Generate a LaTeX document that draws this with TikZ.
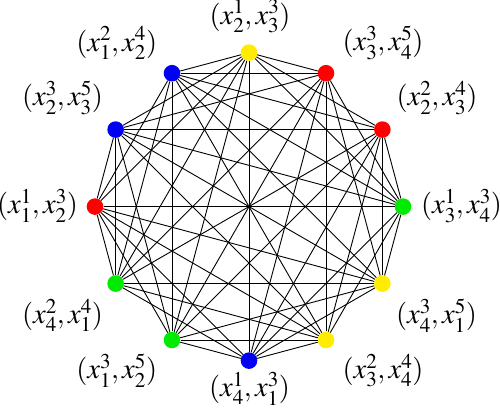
\documentclass[tikz,border=0pt]{standalone}
\usepackage{mathptmx}
\definecolor{nyellow}{RGB}{255,236,0}
\definecolor{nred}{RGB}{255,0,0}
\definecolor{ngreen}{RGB}{0,235,0}
\definecolor{nblue}{RGB}{0,0,245}
\begin{document}
\begin{tikzpicture}[x=1pt,y=-1pt,
  vtx/.style={circle,inner sep=0pt,minimum size=16.6pt,fill=#1},
  conn/.style={line width=0.9pt,black},
  lab/.style={inner sep=0pt,font=\fontsize{28.5}{32}\selectfont}]
\useasboundingbox (0,0) rectangle (500,412);
\begin{scope}[shift={(249,206.6)}]
\foreach \k/\c in {0/nyellow,1/nred,2/nred,3/ngreen,4/nyellow,5/nyellow,6/nblue,7/ngreen,8/ngreen,9/nred,10/nblue,11/nblue}
  \node[vtx=\c] (n\k) at ({30*\k-90}:154) {};
\end{scope}
% complete 4-partite graph: yellow {0,4,5}, red {1,2,9}, green {3,7,8}, blue {6,10,11}
\foreach \p in {0,4,5} \foreach \q in {1,2,9,3,7,8,6,10,11} \draw[conn] (n\p) -- (n\q);
\foreach \p in {1,2,9} \foreach \q in {3,7,8,6,10,11} \draw[conn] (n\p) -- (n\q);
\foreach \p in {3,7,8} \foreach \q in {6,10,11} \draw[conn] (n\p) -- (n\q);
\node[lab] (l0) at (250,16.5) {$(x^1_2, x^3_3)$};
\node[lab] (l1) at (383,43) {$(x^3_3, x^5_4)$};
\node[lab] (l2) at (437,98) {$(x^2_2, x^4_3)$};
\node[lab] (l3) at (461.5,206) {$(x^1_3, x^3_4)$};
\node[lab] (l4) at (436.5,315.5) {$(x^3_4, x^5_1)$};
\node[lab] (l5) at (383,370.5) {$(x^2_3, x^4_4)$};
\node[lab] (l6) at (249.5,388.5) {$(x^1_4, x^3_1)$};
\node[lab] (l7) at (116.7,370.5) {$(x^3_1, x^5_2)$};
\node[lab] (l8) at (62.5,315.5) {$(x^2_4, x^4_1)$};
\node[lab] (l9) at (37.5,206) {$(x^1_1, x^3_2)$};
\node[lab] (l10) at (62.5,98) {$(x^3_2, x^5_3)$};
\node[lab] (l11) at (116.7,43) {$(x^2_1, x^4_2)$};
\end{tikzpicture}
\end{document}
